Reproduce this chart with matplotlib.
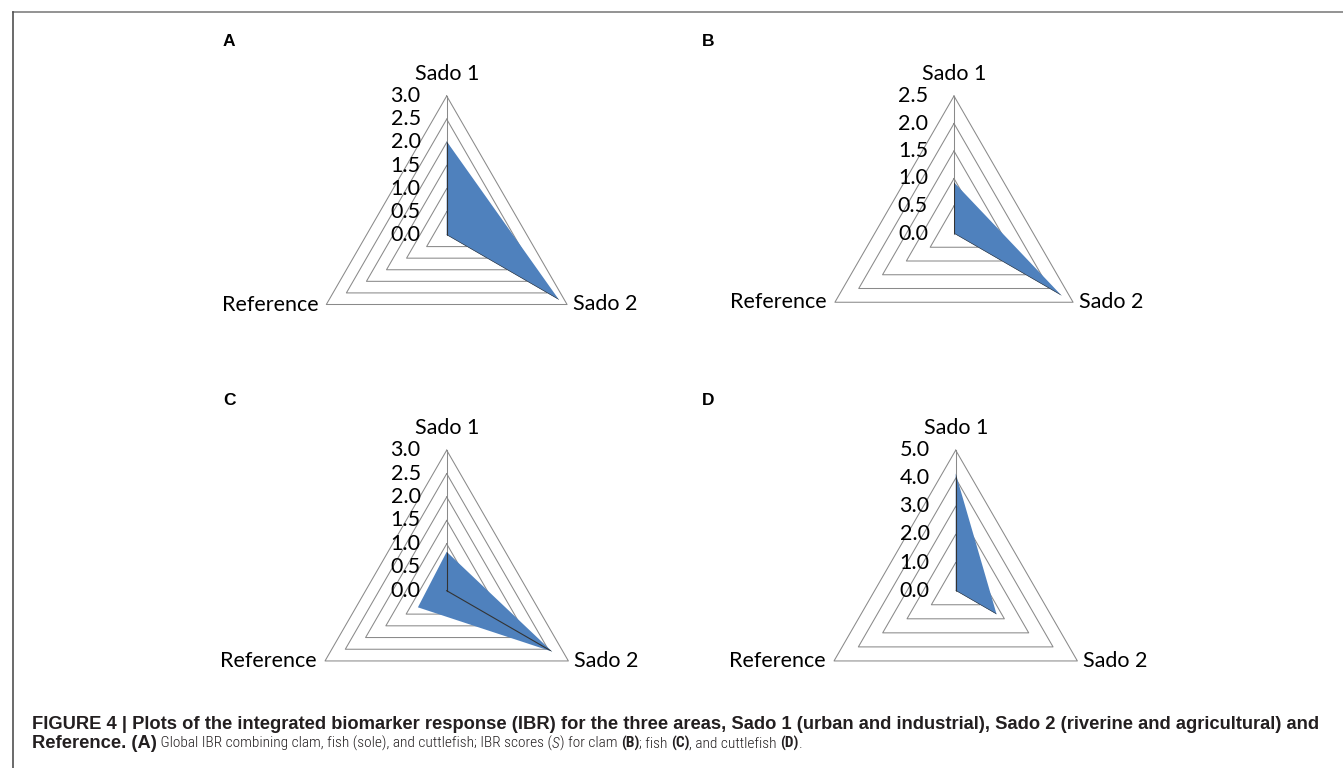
import numpy as np
import matplotlib
matplotlib.use("Agg")
import matplotlib.pyplot as plt
from matplotlib import font_manager
from matplotlib.lines import Line2D

# chart data
categories = ["Sado 1", "Sado 2", "Reference"]
panel_letters = ["A", "B", "C", "D"]
values_A = [2.02, 2.80, 0.0]
values_B = [0.93, 2.26, 0.0]
values_C = [0.83, 2.60, 0.71]
values_D = [4.17, 1.68, 0.0]
ticks_A = [0.0, 0.5, 1.0, 1.5, 2.0, 2.5, 3.0]
ticks_B = [0.0, 0.5, 1.0, 1.5, 2.0, 2.5]
ticks_C = [0.0, 0.5, 1.0, 1.5, 2.0, 2.5, 3.0]
ticks_D = [0.0, 1.0, 2.0, 3.0, 4.0, 5.0]

W, H = 1343, 768
fig = plt.figure(figsize=(W / 100, H / 100), dpi=100)

fonts = font_manager.fontManager.ttflist
installed = {f.name for f in fonts}


def is_condensed(f):
    s = f.stretch
    if isinstance(s, (int, float)):
        return s < 500
    return "condensed" in str(s) or "narrow" in str(s)


# narrow font for the plain caption text
narrow_font, narrow_stretch = "Liberation Sans", "normal"
for name in ["Roboto Condensed", "Liberation Sans Narrow", "DejaVu Sans Condensed", "Open Sans Condensed"]:
    if name in installed:
        narrow_font = name
        break
else:
    for fam in ["Roboto", "Liberation Sans", "DejaVu Sans", "Open Sans", "Noto Sans"]:
        if any(f.name == fam and is_condensed(f) for f in fonts):
            narrow_font, narrow_stretch = fam, "condensed"
            break

chart_font = "Lato"
cap_font = "Liberation Sans"
fill_color = "#4F81BD"
grid_color = "#8a8a8a"
tick_size = 15.5

# centre x, centre y (from top), radius in pixels for each panel
layout = {"A": (446.7, 235.0, 139.0), "B": (954.0, 233.5, 137.5),
          "C": (446.7, 590.7, 140.5), "D": (955.7, 590.7, 140.5)}
data = {"A": (values_A, ticks_A), "B": (values_B, ticks_B),
        "C": (values_C, ticks_C), "D": (values_D, ticks_D)}

# Sado 1 on top, Sado 2 lower right, Reference lower left
angles = np.pi / 2 - np.arange(3) * 2 * np.pi / 3
L = 1.35

for letter in panel_letters:
    cx, cy, R = layout[letter]
    vals, ticks = data[letter]
    rmax = ticks[-1]
    ax = fig.add_axes([(cx - L * R) / W, (H - cy - L * R) / H, 2 * L * R / W, 2 * L * R / H])
    ax.set_xlim(-L, L)
    ax.set_ylim(-L, L)
    ax.axis("off")

    # triangular gridlines
    for t in ticks[1:]:
        r = t / rmax
        xs = np.append(r * np.cos(angles), r * np.cos(angles[0]))
        ys = np.append(r * np.sin(angles), r * np.sin(angles[0]))
        ax.plot(xs, ys, color=grid_color, lw=0.75, zorder=1, clip_on=False)
    ax.plot([0, np.cos(angles[0])], [0, np.sin(angles[0])], color=grid_color, lw=0.75, zorder=1)

    # filled area
    r = np.array(vals) / rmax
    patch = ax.fill(r * np.cos(angles), r * np.sin(angles), color=fill_color, lw=0, zorder=2)[0]

    # spokes show through the fill
    for k in (0, 1):
        ln = ax.plot([0, np.cos(angles[k])], [0, np.sin(angles[k])], color="#333333", lw=0.8, zorder=3)[0]
        ln.set_clip_path(patch)

    # value labels
    for t in ticks:
        ax.annotate(f"{t:.1f}", xy=(0, t / rmax), xytext=(-26, 0), textcoords="offset pixels",
                    ha="right", va="center", fontsize=tick_size, family=chart_font, color="black", zorder=4)

    # category labels
    ax.annotate(categories[0], xy=(np.cos(angles[0]), np.sin(angles[0])), xytext=(0, 16),
                textcoords="offset pixels", ha="center", va="baseline", fontsize=tick_size, family=chart_font)
    ax.annotate(categories[1], xy=(np.cos(angles[1]), np.sin(angles[1])), xytext=(6, 0),
                textcoords="offset pixels", ha="left", va="center", fontsize=tick_size, family=chart_font)
    ax.annotate(categories[2], xy=(np.cos(angles[2]), np.sin(angles[2])), xytext=(-8, 0),
                textcoords="offset pixels", ha="right", va="center", fontsize=tick_size, family=chart_font)

# panel letters
letter_pos = {"A": (223, 46.5), "B": (702, 46.5), "C": (223, 405), "D": (702, 405)}
for letter in panel_letters:
    x, y = letter_pos[letter]
    fig.text(x / W, 1 - y / H, letter, fontsize=12.5, fontweight="bold", family="Liberation Sans",
             va="baseline", ha="left")

# border (only top and left show)
fig.add_artist(Line2D([13 / W, 1], [1 - 12 / H, 1 - 12 / H], color="#808080", lw=1.2))
fig.add_artist(Line2D([13 / W, 13 / W], [0, 1 - 12 / H], color="#505050", lw=1.2))

# caption: (text, weight, style, wide font?)
line1 = [("FIGURE 4 | Plots of the integrated biomarker response (IBR) for the three areas, "
          "Sado 1 (urban and industrial), Sado 2 (riverine and agricultural) and", "bold", "normal", True)]
line2 = [("Reference. (A)", "bold", "normal", True),
         (" Global IBR combining clam, fish (sole), and cuttlefish; IBR scores (", "light", "normal", False),
         ("S", "light", "italic", False),
         (") for clam ", "light", "normal", False),
         ("(B)", "bold", "normal", False),
         ("; fish ", "light", "normal", False),
         ("(C)", "bold", "normal", False),
         (", and cuttlefish ", "light", "normal", False),
         ("(D)", "bold", "normal", False),
         (".", "light", "normal", False)]

renderer = fig.canvas.get_renderer()


def text_width(txt, size, weight, style, family, stretch):
    p = fig.text(0, 0, txt, fontsize=size, fontweight=weight, fontstyle=style, family=family, fontstretch=stretch)
    w = p.get_window_extent(renderer).width
    p.remove()
    return w


# wide bold text sized so the first line spans the same width as in the figure
cap_size = 10 * 1290 / text_width(line1[0][0], 10, "bold", "normal", cap_font, "normal")

# narrow text sized so the second line ends where it does in the figure
wide_w = sum(text_width(t, cap_size, w, s, cap_font, "normal") for t, w, s, wide in line2 if wide)
narrow_w = sum(text_width(t, 10, w, s, narrow_font, narrow_stretch) for t, w, s, wide in line2 if not wide)
plain_size = 10 * (805 - 32 - wide_w) / narrow_w


def caption_line(pieces, x0, y):
    x = x0
    for txt, weight, style, wide in pieces:
        if wide:
            kw = dict(fontsize=cap_size, family=cap_font)
        else:
            kw = dict(fontsize=plain_size, family=narrow_font, fontstretch=narrow_stretch)
        t = fig.text(x / W, 1 - y / H, txt, fontweight=weight, fontstyle=style,
                     va="baseline", ha="left", color="#231f20", **kw)
        x += t.get_window_extent(renderer).width


caption_line(line1, 32, 729)
caption_line(line2, 32, 748)

fig.savefig("out.png", dpi=100)
